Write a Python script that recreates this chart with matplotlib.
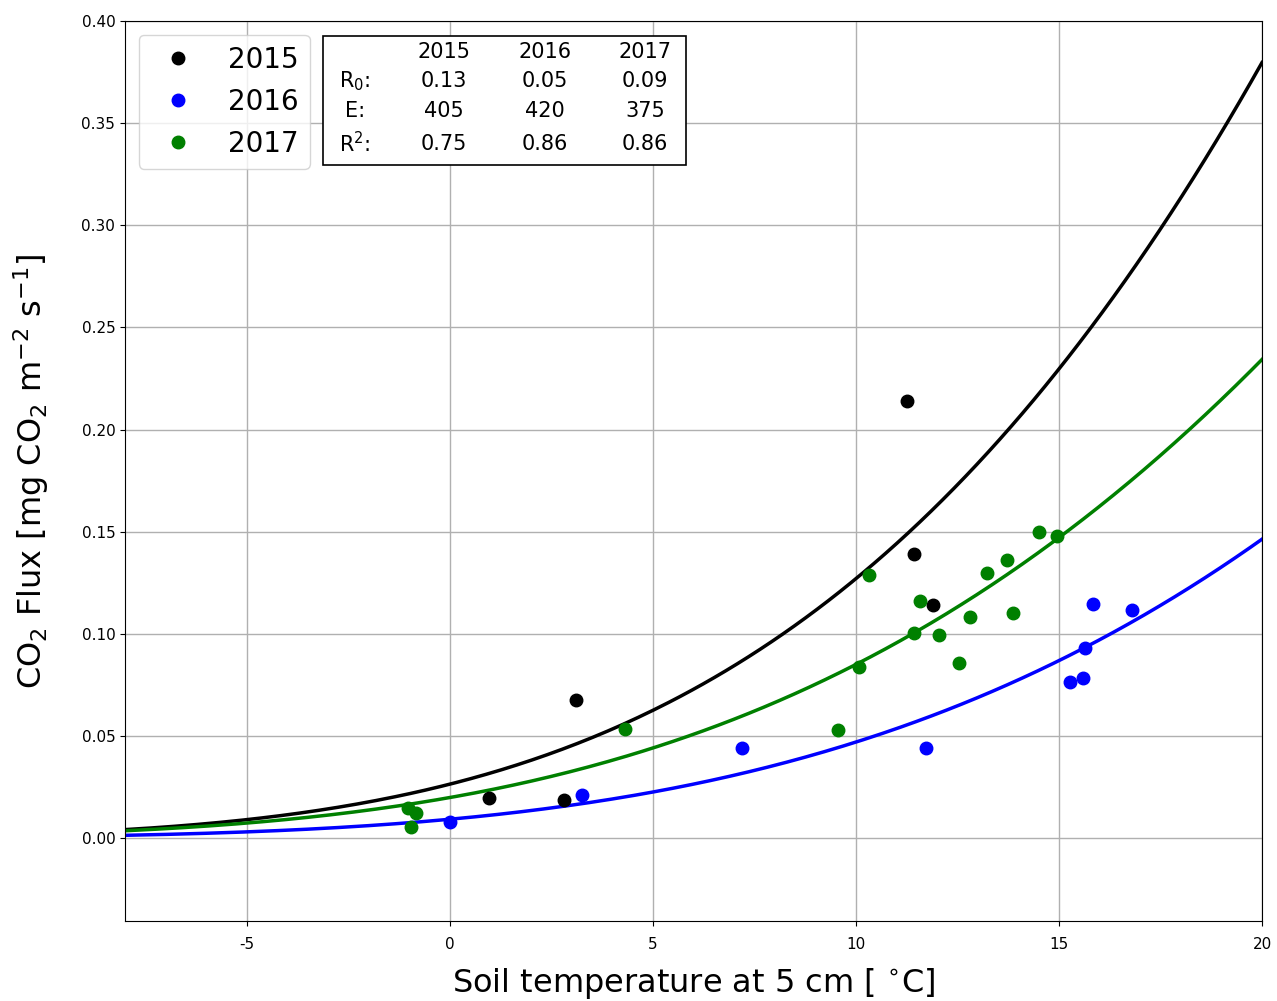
import numpy as np
import matplotlib
matplotlib.use("Agg")
import matplotlib.pyplot as plt
from matplotlib.patches import Rectangle

plt.rcParams["axes.unicode_minus"] = False

years = ["2015", "2016", "2017"]
colors = ["black", "blue", "green"]

t_2015 = [11.27, 11.44, 11.91, 3.10, 0.96, 2.81]
f_2015 = [0.214, 0.139, 0.114, 0.0676, 0.0196, 0.0186]

t_2016 = [0.0, 3.25, 7.19, 11.72, 15.83, 16.79, 15.65, 15.26, 15.58]
f_2016 = [0.0078, 0.021, 0.044, 0.044, 0.1146, 0.1116, 0.093, 0.0764, 0.0783]

t_2017 = [-1.03, -0.84, -0.96, 4.31, 9.57, 10.07, 10.31, 11.57, 11.44, 12.04,
          12.55, 12.82, 13.24, 13.71, 13.88, 14.50, 14.94]
f_2017 = [0.0147, 0.0122, 0.0054, 0.0534, 0.0529, 0.0837, 0.1288, 0.116, 0.1004,
          0.0994, 0.0857, 0.108, 0.130, 0.136, 0.110, 0.150, 0.148]

# Lloyd-Taylor fit parameters (reference 10 degC)
r0_fit = [0.127, 0.047, 0.085]
e_fit = [405, 420, 375]

table_r0 = ["0.13", "0.05", "0.09"]
table_e = ["405", "420", "375"]
table_r2 = ["0.75", "0.86", "0.86"]

temps = [t_2015, t_2016, t_2017]
fluxes = [f_2015, f_2016, f_2017]


def lloyd_taylor(t, r0, e):
    return r0 * np.exp(e * (1.0 / (283.15 - 227.13) - 1.0 / (t + 273.15 - 227.13)))


fig = plt.figure(figsize=(12.77, 10.01), dpi=100)
ax = fig.add_axes([125 / 1277, 1 - 921 / 1001, (1262 - 125) / 1277, (921 - 21) / 1001])

tt = np.linspace(-8, 20, 300)
for i in range(3):
    ax.plot(temps[i], fluxes[i], "o", color=colors[i], markersize=9, label=years[i], zorder=3)
for i in range(3):
    ax.plot(tt, lloyd_taylor(tt, r0_fit[i], e_fit[i]), "-", color=colors[i], lw=2.5, zorder=2)

ax.set_xlim(-8, 20)
ax.set_ylim(-0.0406, 0.40)
ax.set_yticks(np.arange(0, 0.41, 0.05))
ax.set_yticklabels(["%.2f" % v for v in np.arange(0, 0.41, 0.05)])
ax.set_xticks([-5, 0, 5, 10, 15, 20])
ax.tick_params(labelsize=11)
ax.tick_params(axis="x", pad=8)
ax.grid(True, color="#b0b0b0", lw=1)
ax.set_axisbelow(True)

ax.set_xlabel("Soil temperature at 5 cm [ $^{\\circ}$C]", fontsize=23, labelpad=10)
ax.set_ylabel("CO$_2$ Flux [mg CO$_2$ m$^{-2}$ s$^{-1}$]", fontsize=23, labelpad=22)

ax.legend(loc="upper left", fontsize=20, labelspacing=0.5, handletextpad=0.8,
          borderaxespad=0.5, handlelength=2.0)

# parameter table
ax.add_patch(Rectangle((0.174, 0.84), 0.3194, 0.1433, transform=ax.transAxes,
                       facecolor="white", edgecolor="black", lw=1.2, zorder=5))
col_x = [0.2806, 0.3694, 0.4573]
row_y = [0.9656, 0.9333, 0.9000, 0.8633]
lab_x = 0.2023
fs = 15
for j in range(3):
    ax.text(col_x[j], row_y[0], years[j], transform=ax.transAxes, ha="center", va="center", fontsize=fs, zorder=6)
    ax.text(col_x[j], row_y[1], table_r0[j], transform=ax.transAxes, ha="center", va="center", fontsize=fs, zorder=6)
    ax.text(col_x[j], row_y[2], table_e[j], transform=ax.transAxes, ha="center", va="center", fontsize=fs, zorder=6)
    ax.text(col_x[j], row_y[3], table_r2[j], transform=ax.transAxes, ha="center", va="center", fontsize=fs, zorder=6)
ax.text(lab_x, row_y[1], "R$_0$:", transform=ax.transAxes, ha="center", va="center", fontsize=fs, zorder=6)
ax.text(lab_x, row_y[2], "E:", transform=ax.transAxes, ha="center", va="center", fontsize=fs, zorder=6)
ax.text(lab_x, row_y[3], "R$^2$:", transform=ax.transAxes, ha="center", va="center", fontsize=fs, zorder=6)

fig.savefig("out.png", dpi=100)
